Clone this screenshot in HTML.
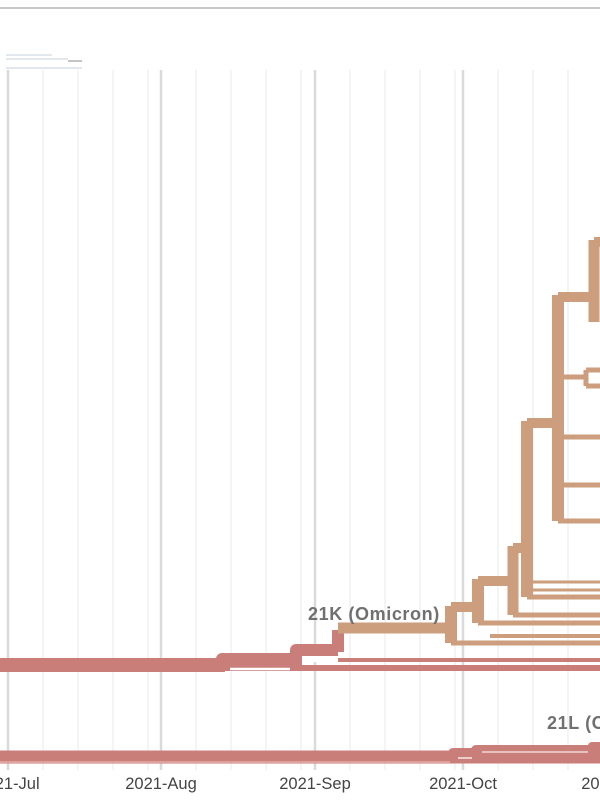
<!DOCTYPE html>
<html><head><meta charset="utf-8"><style>
html,body{margin:0;padding:0;background:#fff;width:600px;height:800px;overflow:hidden}
svg{display:block}
text{font-family:"Liberation Sans",sans-serif}
</style></head><body>
<svg width="600" height="800" viewBox="0 0 600 800">
<line x1="0" y1="8" x2="600" y2="8" stroke="#c8c8c8" stroke-width="2"/>
<g stroke="#c5d0de" stroke-width="1">
<line x1="6" y1="55" x2="52" y2="55"/><line x1="6" y1="59" x2="68" y2="59"/><line x1="68" y1="61" x2="82" y2="61" stroke="#888"/><line x1="6" y1="68" x2="82" y2="68"/>
</g>
<g stroke="#ececec" stroke-width="1.2">
<line x1="43" y1="70" x2="43" y2="770"/><line x1="78" y1="70" x2="78" y2="770"/><line x1="113" y1="70" x2="113" y2="770"/><line x1="148" y1="70" x2="148" y2="770"/>
<line x1="196" y1="70" x2="196" y2="770"/><line x1="231" y1="70" x2="231" y2="770"/><line x1="266" y1="70" x2="266" y2="770"/><line x1="301" y1="70" x2="301" y2="770"/>
<line x1="350" y1="70" x2="350" y2="770"/><line x1="385" y1="70" x2="385" y2="770"/><line x1="420" y1="70" x2="420" y2="770"/><line x1="455" y1="70" x2="455" y2="770"/>
<line x1="498" y1="70" x2="498" y2="770"/><line x1="533" y1="70" x2="533" y2="770"/><line x1="568" y1="70" x2="568" y2="770"/>
</g>
<g stroke="#dadada" stroke-width="2.5">
<line x1="8" y1="70" x2="8" y2="770"/><line x1="161" y1="70" x2="161" y2="770"/><line x1="315" y1="70" x2="315" y2="770"/><line x1="463" y1="70" x2="463" y2="770"/>
</g>
<!-- red upper -->
<g fill="none" stroke="#c97e7a" stroke-linejoin="round">
<line x1="0" y1="665" x2="225" y2="665" stroke-width="14"/>
<path d="M222 666 V659 H296" stroke-width="12"/>
<path d="M222 668 H600" stroke-width="6"/>
<path d="M296 668 V650 H338" stroke-width="12"/>
<path d="M338 652 V630" stroke-width="12"/>
<line x1="338" y1="660" x2="600" y2="660" stroke-width="4"/>
</g>
<line x1="230" y1="669" x2="290" y2="669" stroke="#fff" stroke-width="2.5"/>
<rect x="305" y="656" width="26" height="6" fill="#fff"/>
<!-- tan -->
<g fill="none" stroke="#cc9e7e" stroke-linejoin="round">
<path d="M338 628 H451" stroke-width="11"/>
<path d="M451 606 V643" stroke-width="12"/>
<path d="M451 643 H600" stroke-width="5"/>
<path d="M451 607 H478" stroke-width="10"/>
<path d="M490 636 H600" stroke-width="4"/>
<path d="M478 579 V623" stroke-width="12"/>
<path d="M478 623 H600" stroke-width="5"/>
<path d="M478 581 H513" stroke-width="10"/>
<path d="M513 546 V615" stroke-width="11"/>
<path d="M513 615 H600" stroke-width="5"/>
<path d="M513 548 H527" stroke-width="10"/>
<path d="M527 421 V597" stroke-width="12"/>
<path d="M527 597 H600" stroke-width="5"/>
<path d="M527 423 H558" stroke-width="10"/>
<path d="M527 582 H600 M527 590 H600" stroke-width="3"/>
<path d="M558 295 V521" stroke-width="12"/>
<path d="M558 521 H600" stroke-width="5"/>
<path d="M558 297 H594" stroke-width="10"/>
<path d="M558 377 H586 M586 370 V386 M586 370 H600 M586 386 H600" stroke-width="5"/>
<path d="M558 437 H600 M558 485 H600" stroke-width="5"/>
<path d="M594 240 V322" stroke-width="11"/>
<path d="M594 242 H600" stroke-width="10"/>
</g>
<text x="308" y="620" font-size="18" font-weight="bold" fill="#707070" letter-spacing="0.6">21K (Omicron)</text>
<!-- bottom red -->
<g fill="none" stroke="#c97e7a" stroke-linejoin="round">
<line x1="0" y1="757" x2="600" y2="757" stroke-width="13"/>
<path d="M453 757 V753 H600" stroke-width="10"/>
<path d="M476 757 V750 H600" stroke-width="10"/>
<path d="M592 750 V746 H600" stroke-width="8"/>
</g>
<line x1="458" y1="758" x2="472" y2="758" stroke="#f3d6d3" stroke-width="1.8"/>
<line x1="482" y1="752" x2="588" y2="752" stroke="#f3d6d3" stroke-width="1.5"/>
<line x1="0" y1="762" x2="450" y2="762" stroke="#e9b9b5" stroke-width="1.2"/>
<text x="547" y="729" font-size="18" font-weight="bold" fill="#707070" letter-spacing="0.6">21L (Omicron)</text>
<g font-size="16.5" fill="#444" text-anchor="middle">
<text x="8" y="789">2021-Jul</text>
<text x="161" y="789">2021-Aug</text>
<text x="315" y="789">2021-Sep</text>
<text x="463" y="789">2021-Oct</text>
<text x="617" y="789">2021-Nov</text>
</g>
</svg>
</body></html>
